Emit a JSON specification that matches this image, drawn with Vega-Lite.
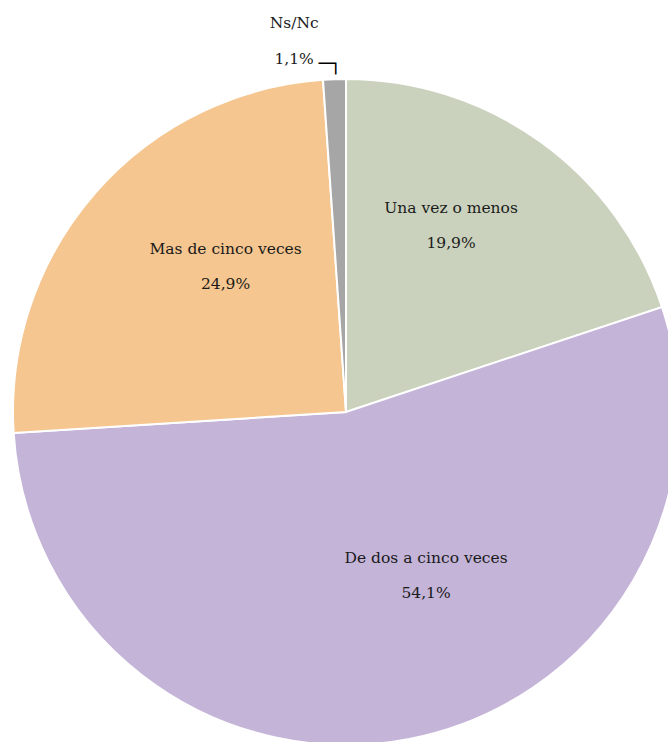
{
  "$schema": "https://vega.github.io/schema/vega-lite/v6.json",
  "width": 692,
  "height": 824,
  "padding": 0,
  "autosize": {"type": "none"},
  "background": "white",
  "config": {"view": {"stroke": null}, "text": {"font": "DejaVu Serif", "fontSize": 15.5, "color": "#1a1a1a", "lineBreak": "\n", "lineHeight": 35, "align": "center", "baseline": "middle"}},
  "data": {
    "values": [
      {"categoria": "Una vez o menos", "pct": 19.9, "orden": 1, "etiqueta": "Una vez o menos\n19,9%"},
      {"categoria": "De dos a cinco veces", "pct": 54.1, "orden": 2, "etiqueta": "De dos a cinco veces\n54,1%"},
      {"categoria": "Mas de cinco veces", "pct": 24.9, "orden": 3, "etiqueta": "Mas de cinco veces\n24,9%"},
      {"categoria": "Ns/Nc", "pct": 1.1, "orden": 4, "etiqueta": "Ns/Nc\n1,1%"}
    ]
  },
  "encoding": {
    "theta": {"field": "pct", "type": "quantitative", "stack": true},
    "order": {"field": "orden", "type": "quantitative"}
  },
  "layer": [
    {
      "mark": {"type": "arc", "outerRadius": 333, "stroke": "white", "strokeWidth": 2},
      "encoding": {
        "color": {
          "field": "categoria",
          "type": "nominal",
          "scale": {
            "domain": ["Una vez o menos", "De dos a cinco veces", "Mas de cinco veces", "Ns/Nc"],
            "range": ["#CAD2BD", "#C4B4D8", "#F5C68F", "#A6A6A6"]
          },
          "legend": null
        }
      }
    },
    {
      "mark": {"type": "text", "radius": 200, "dx": -12, "dy": -42},
      "encoding": {"text": {"condition": {"test": "datum.orden == 1", "field": "etiqueta"}, "value": ""}}
    },
    {
      "mark": {"type": "text", "radius": 200, "dx": 42, "dy": -50},
      "encoding": {"text": {"condition": {"test": "datum.orden == 2", "field": "etiqueta"}, "value": ""}}
    },
    {
      "mark": {"type": "text", "radius": 200, "dx": 30, "dy": -31},
      "encoding": {"text": {"condition": {"test": "datum.orden == 3", "field": "etiqueta"}, "value": ""}}
    },
    {
      "mark": {"type": "text", "radius": 372, "dx": -39, "dy": -17, "lineHeight": 36},
      "encoding": {"text": {"condition": {"test": "datum.orden == 4", "field": "etiqueta"}, "value": ""}}
    },
    {
      "mark": {"type": "text", "radius": 350, "dx": -4, "dy": 2, "font": "DejaVu Sans Mono", "fontSize": 19, "color": "#000000"},
      "encoding": {"text": {"condition": {"test": "datum.orden == 4", "value": "─┐"}, "value": ""}}
    }
  ]
}
